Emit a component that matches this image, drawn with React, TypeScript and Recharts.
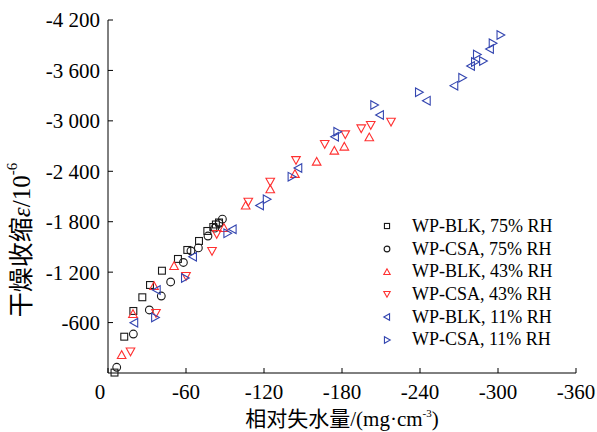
import React from 'react';
import {
  ScatterChart,
  Scatter,
  XAxis,
  YAxis,
  Label,
} from 'recharts';

// relative water loss (mg/cm3) and drying shrinkage (1e-6)
const blk75X = [-5, -12.5, -19.5, -26.4, -32.3, -41.5, -53.8, -61, -70, -76.4, -81, -83, -85.4];
const blk75Y = [-5, -432, -738, -901, -1047, -1217, -1357, -1464, -1571, -1690, -1737, -1767, -1791];

const csa75X = [-6.7, -19.5, -31.8, -41, -48.2, -58, -63.8, -69.5, -76.9, -82.2, -85.5, -88];
const csa75Y = [-68, -464, -750, -916, -1083, -1315, -1452, -1488, -1630, -1723, -1781, -1830];

const blk43X = [-10.5, -19.2, -35.4, -50.8, -89.2, -105.9, -124.8, -143.8, -160.5, -174.1, -181.8, -201];
const blk43Y = [-214, -702, -1035, -1273, -1725, -1993, -2186, -2368, -2514, -2645, -2693, -2804];

const csa43X = [-17.3, -36.9, -60, -80, -83.6, -107.9, -124.8, -144.6, -166.7, -182.5, -194.8, -202.1, -217.7];
const csa43Y = [-256, -714, -1154, -1452, -1654, -2038, -2276, -2534, -2725, -2840, -2911, -2951, -2990];

const blk11X = [-20.2, -37.5, -65.4, -95.9, -116.9, -146.4, -174.6, -209.2, -245.2, -266.4, -279.2, -293.8];
const blk11Y = [-598, -988, -1384, -1710, -1993, -2439, -2811, -3070, -3240, -3419, -3653, -3855];

const csa11X = [-36.2, -59.2, -91.8, -122.1, -141.2, -176.4, -204.8, -239.2, -272.5, -282.3, -283.8, -288.5, -295.9, -301.9];
const csa11Y = [-660, -1130, -1662, -2067, -2336, -2871, -3189, -3340, -3513, -3700, -3790, -3712, -3923, -4022];

const xTicks = [0, -60, -120, -180, -240, -300, -360];
const yTicks = [-4200, -3600, -3000, -2400, -1800, -1200, -600];

const zip = (xs: number[], ys: number[]) => xs.map((x, i) => ({ x, y: ys[i] }));

const FONT = "'Liberation Serif', 'Times New Roman', 'Noto Sans CJK SC', serif";
const BLACK = '#1a1a1a';
const RED = '#ff3030';
const BLUE = '#3446b0';

type Kind = 'square' | 'circle' | 'up' | 'down' | 'left' | 'right';

const marker = (kind: Kind, cx: number, cy: number, color: string, s: number) => {
  const sw = 1.1;
  switch (kind) {
    case 'square':
      return <rect x={cx - s * 0.8} y={cy - s * 0.8} width={s * 1.6} height={s * 1.6} fill="none" stroke={color} strokeWidth={sw} />;
    case 'circle':
      return <circle cx={cx} cy={cy} r={s * 0.9} fill="none" stroke={color} strokeWidth={sw} />;
    case 'up':
      return <polygon points={`${cx},${cy - s} ${cx - s},${cy + s * 0.8} ${cx + s},${cy + s * 0.8}`} fill="none" stroke={color} strokeWidth={sw} />;
    case 'down':
      return <polygon points={`${cx},${cy + s} ${cx - s},${cy - s * 0.8} ${cx + s},${cy - s * 0.8}`} fill="none" stroke={color} strokeWidth={sw} />;
    case 'left':
      return <polygon points={`${cx - s},${cy} ${cx + s * 0.8},${cy - s} ${cx + s * 0.8},${cy + s}`} fill="none" stroke={color} strokeWidth={sw} />;
    default:
      return <polygon points={`${cx + s},${cy} ${cx - s * 0.8},${cy - s} ${cx - s * 0.8},${cy + s}`} fill="none" stroke={color} strokeWidth={sw} />;
  }
};

const series = [
  { name: 'WP-BLK, 75% RH', kind: 'square' as Kind, color: BLACK, data: zip(blk75X, blk75Y) },
  { name: 'WP-CSA, 75% RH', kind: 'circle' as Kind, color: BLACK, data: zip(csa75X, csa75Y) },
  { name: 'WP-BLK, 43% RH', kind: 'up' as Kind, color: RED, data: zip(blk43X, blk43Y) },
  { name: 'WP-CSA, 43% RH', kind: 'down' as Kind, color: RED, data: zip(csa43X, csa43Y) },
  { name: 'WP-BLK, 11% RH', kind: 'left' as Kind, color: BLUE, data: zip(blk11X, blk11Y) },
  { name: 'WP-CSA, 11% RH', kind: 'right' as Kind, color: BLUE, data: zip(csa11X, csa11Y) },
];

const fmtY = (v: number) => {
  const s = Math.abs(v).toString().replace(/\B(?=(\d{3})+(?!\d))/g, ' ');
  return v < 0 ? '-' + s : s;
};

const XTick = (props: any) => {
  const { x, y, payload } = props;
  const shift = payload.value === 0 ? -8 : 0;
  return (
    <text x={x + shift} y={y} dy="0.71em" textAnchor="middle" fontSize={21} fontFamily={FONT} fill="#000">
      {payload.value}
    </text>
  );
};

// legend drawn as an overlay so it takes no space from the plot
const ChartLegend = () => (
  <div style={{ position: 'absolute', left: 377, top: 215, fontFamily: FONT, fontSize: 18, color: '#000' }}>
    {series.map((s) => (
      <div key={s.name} style={{ display: 'flex', alignItems: 'center', height: 22.7, whiteSpace: 'nowrap' }}>
        <svg width={20} height={14} style={{ marginRight: 15 }}>
          {marker(s.kind, 10, 7, s.color, 3.2)}
        </svg>
        <span>{s.name}</span>
      </div>
    ))}
  </div>
);

export default function App() {
  return (
    <div style={{ position: 'absolute', left: 0, top: 0, width: 597, height: 432, background: '#fff' }}>
      <ScatterChart width={597} height={432} margin={{ top: 20, right: 21, bottom: 29, left: 48 }}>
        <XAxis
          type="number"
          dataKey="x"
          domain={[-360, 0]}
          reversed
          ticks={xTicks}
          interval={0}
          height={30}
          tickSize={-5}
          tickMargin={16}
          tick={<XTick />}
          axisLine={{ stroke: '#000', strokeWidth: 1 }}
          tickLine={{ stroke: '#000', strokeWidth: 1 }}
        >
          <Label
            content={() => (
              <text x={342} y={419} textAnchor="middle" dominantBaseline="central" fontSize={21} fontFamily={FONT} fill="#000">
                <tspan>相对失水量/(mg·cm</tspan>
                <tspan dy={-6} fontSize={11}>-3</tspan>
                <tspan dy={6}>)</tspan>
              </text>
            )}
          />
        </XAxis>
        <YAxis
          type="number"
          dataKey="y"
          domain={[-4200, 0]}
          reversed
          ticks={yTicks}
          interval={0}
          width={60}
          tickSize={-5}
          tickMargin={13}
          tickFormatter={fmtY}
          tick={{ fontSize: 21, fontFamily: FONT, fill: '#000' }}
          axisLine={{ stroke: '#000', strokeWidth: 1 }}
          tickLine={{ stroke: '#000', strokeWidth: 1 }}
        >
          <Label
            content={() => (
              <text
                x={21}
                y={240}
                transform="rotate(-90, 21, 240)"
                textAnchor="middle"
                dominantBaseline="central"
                fontSize={25}
                fontFamily={FONT}
                fill="#000"
              >
                <tspan>干燥收缩</tspan>
                <tspan fontStyle="italic">ε</tspan>
                <tspan>/10</tspan>
                <tspan dy={-9} fontSize={15}>-6</tspan>
              </text>
            )}
          />
        </YAxis>
        {series.map((s) => (
          <Scatter
            key={s.name}
            name={s.name}
            data={s.data}
            isAnimationActive={false}
            shape={(p: any) => marker(s.kind, p.cx, p.cy, s.color, 4.3)}
          />
        ))}
      </ScatterChart>
      <ChartLegend />
    </div>
  );
}
